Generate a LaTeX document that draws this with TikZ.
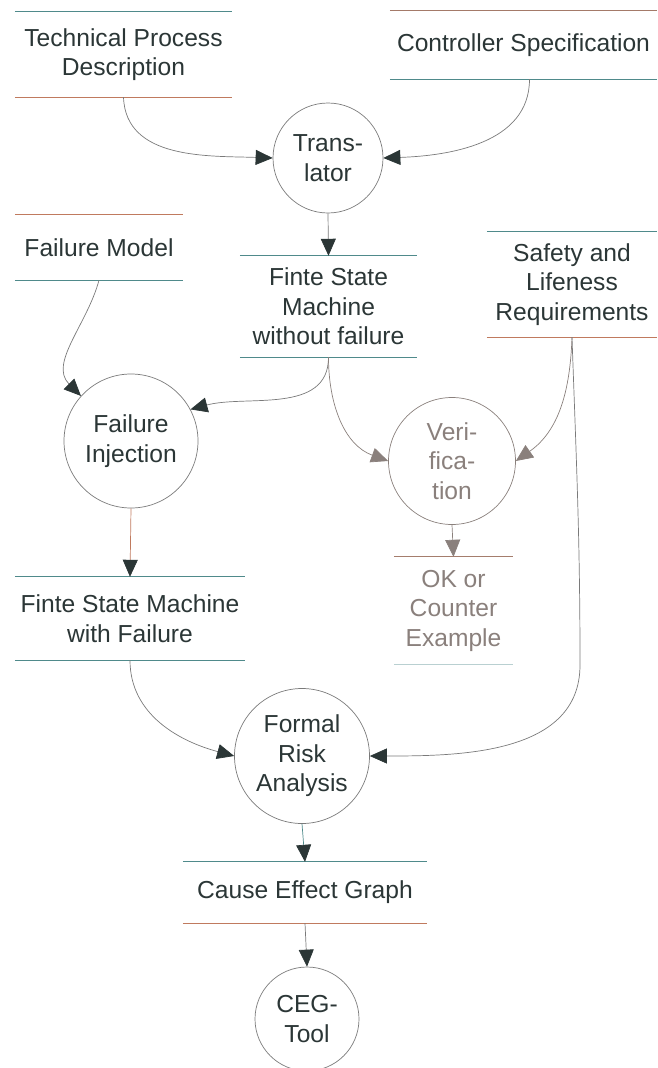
\documentclass[tikz,border=0pt]{standalone}
\usepackage{fontspec}
\setmainfont{Liberation Sans}
\usetikzlibrary{arrows.meta}
\definecolor{ink}{HTML}{2B3636}
\definecolor{faded}{HTML}{8A807C}
\definecolor{wire}{HTML}{7A7A7A}
\definecolor{tealline}{HTML}{4F8A8B}
\definecolor{rustline}{HTML}{C07A5E}

\begin{document}
\begin{tikzpicture}[x=1pt,y=1pt]
            \tikzstyle{every node}+=[inner sep=0pt, align=center, text=ink, font=\fontsize{24.6}{29.5}\selectfont]
            \tikzstyle{store}=[rectangle]
            \tikzstyle{proc}=[circle, draw=wire, line width=0.7pt]
            \tikzstyle{flow}=[draw=wire, line width=0.7pt, -{Triangle[length=17pt,width=15pt,color=ink]}]
            \tikzstyle{vflow}=[draw=faded, line width=0.7pt, -{Triangle[length=17pt,width=15pt,color=faded]}]
            \useasboundingbox (0,0) rectangle (657,-1068);
            % data stores
            \node (tpd) [store, minimum width=217, minimum height=85] at (123.5,-54.5) {Technical Process\\Description};
            \draw [tealline, line width=0.9pt] (tpd.north west) -- (tpd.north east);
            \draw [rustline, line width=0.9pt] (tpd.south west) -- (tpd.south east);
            \node (cs) [store, minimum width=267, minimum height=68] at (523.5,-45) {Controller Specification};
            \draw [rustline!60!wire, line width=0.9pt] (cs.north west) -- (cs.north east);
            \draw [tealline, line width=0.9pt] (cs.south west) -- (cs.south east);
            \node (fm) [store, minimum width=168, minimum height=65] at (99,-247.5) {Failure Model};
            \draw [rustline, line width=0.9pt] (fm.north west) -- (fm.north east);
            \draw [tealline, line width=0.9pt] (fm.south west) -- (fm.south east);
            \node (fsmwo) [store, minimum width=177, minimum height=101] at (328.5,-306.5) {Finte State\\Machine\\without failure};
            \draw [tealline, line width=0.9pt] (fsmwo.north west) -- (fsmwo.north east);
            \draw [tealline, line width=0.9pt] (fsmwo.south west) -- (fsmwo.south east);
            \node (slr) [store, minimum width=170, minimum height=105] at (572,-284.5) {Safety and\\Lifeness\\Requirements};
            \draw [tealline, line width=0.9pt] (slr.north west) -- (slr.north east);
            \draw [rustline, line width=0.9pt] (slr.south west) -- (slr.south east);
            \node (fsmw) [store, minimum width=230, minimum height=83] at (130,-618.5) {Finte State Machine\\with Failure};
            \draw [tealline, line width=0.9pt] (fsmw.north west) -- (fsmw.north east);
            \draw [tealline, line width=0.9pt] (fsmw.south west) -- (fsmw.south east);
            \node (okce) [store, text=faded, minimum width=119, minimum height=107] at (453.5,-610.5) {OK or\\Counter\\Example};
            \draw [rustline!50!faded, line width=0.9pt] (okce.north west) -- (okce.north east);
            \draw [tealline!40!white, line width=0.9pt] (okce.south west) -- (okce.south east);
            \node (ceg) [store, minimum width=244, minimum height=61] at (305,-892.5) {Cause Effect Graph};
            \draw [tealline, line width=0.9pt] (ceg.north west) -- (ceg.north east);
            \draw [rustline, line width=0.9pt] (ceg.south west) -- (ceg.south east);
            % processes
            \node (trans) [proc, minimum size=110] at (328,-158) {Trans-\\lator};
            \node (finj) [proc, minimum size=134] at (131,-441) {Failure\\Injection};
            \node (verif) [proc, draw=faded, text=faded, minimum size=127] at (452,-461) {Veri-\\fica-\\tion};
            \node (fra) [proc, minimum size=135] at (302,-756) {Formal\\Risk\\Analysis};
            \node (cegtool) [proc, minimum size=104] at (307,-1019) {CEG-\\Tool};
            \coordinate (bend) at (580,-665);
            % flows
            \draw [flow] (tpd.south) to[out=-88,in=178] (trans.west);
            \draw [flow] ([xshift=6]cs.south) to[out=-90,in=2] (trans.east);
            \draw [flow] (trans.south) -- (fsmwo.north);
            \draw [flow] (fm.south) to[out=-105,in=135] (finj.138);
            \draw [flow] (fsmwo.south) to[out=-90,in=15] (finj.28);
            \draw [vflow] (fsmwo.south) to[out=-90,in=160] (verif.west);
            \draw [vflow] (slr.south) to[out=-92,in=35] (verif.east);
            \draw [flow] (slr.south) to[out=-88,in=90] (bend) to[out=-90,in=0] (fra.east);
            \draw [flow, draw=rustline] (finj.south) -- (fsmw.north);
            \draw [flow] (fsmw.south) to[out=-90,in=165] (fra.west);
            \draw [vflow] (verif.south) -- (okce.north);
            \draw [flow, draw=tealline] (fra.south) -- (ceg.north);
            \draw [flow] (ceg.south) -- (cegtool.north);
\end{tikzpicture}
\end{document}
